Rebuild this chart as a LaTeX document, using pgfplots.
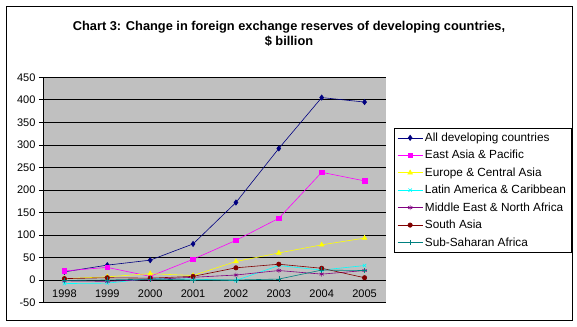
\documentclass[border=0pt]{standalone}
\usepackage{pgfplots}
\pgfplotsset{compat=1.18}
\usepackage{fontspec}
\setmainfont{Liberation Sans}
\usetikzlibrary{plotmarks}
\definecolor{cAll}{HTML}{000080}
\definecolor{cEA}{HTML}{FF00FF}
\definecolor{cEU}{HTML}{FFFF00}
\definecolor{cLA}{HTML}{00FFFF}
\definecolor{cME}{HTML}{800080}
\definecolor{cSA}{HTML}{800000}
\definecolor{cSS}{HTML}{008080}
\definecolor{plotgray}{HTML}{C0C0C0}
\begin{document}
\begin{tikzpicture}
\begin{axis}[
  scale only axis,
  width=343pt, height=225.2pt,
  xmin=-0.5, xmax=7.5,
  ymin=-50, ymax=450,
  ytick={-50,0,...,450},
  xtick={0,...,7},
  xticklabels={1998,1999,2000,2001,2002,2003,2004,2005},
  minor xtick={-0.5,0.5,...,7.5},
  axis x line*=middle,
  axis y line*=left,
  axis line style={black, line width=0.7pt, -},
  x tick style={draw=none},
  minor x tick style={black, line width=0.7pt},
  y tick style={black, line width=0.7pt},
  tick align=outside,
  major tick length=4pt,
  minor tick length=4pt,
  ymajorgrids,
  grid style={black, line width=0.7pt},
  axis background/.style={fill=plotgray},
  tick label style={font=\fontsize{11}{13}\selectfont},
  xticklabel style={yshift=-2.5pt},
  /pgf/number format/assume math mode=true,
  every axis plot/.append style={line width=0.6pt},
  legend image code/.code={\draw[mark repeat=2,mark phase=2,#1] plot coordinates {(0pt,0pt) (12.5pt,0pt) (25pt,0pt)};},
  legend style={at={(rel axis cs:1.0233,0.775)}, anchor=north west, draw=black, line width=0.7pt, fill=white,
    font=\fontsize{11.8}{13}\selectfont, row sep=3.4pt, inner xsep=3pt, inner ysep=2.5pt},
  legend cell align=left,
  clip=false,
]
\addplot[color=cAll, mark=diamond*, mark size=2.6pt] coordinates {(0,18) (1,33) (2,44) (3,80) (4,172) (5,292) (6,405) (7,395)};
\addlegendentry{All developing countries}
\addplot[color=cEA, mark=square*, mark size=2.3pt] coordinates {(0,20) (1,28) (2,8) (3,46) (4,88) (5,137) (6,239) (7,220)};
\addlegendentry{East Asia \& Pacific}
\addplot[color=cEU, mark=triangle*, mark size=2.7pt] coordinates {(0,3) (1,7) (2,14) (3,10) (4,41) (5,60) (6,78) (7,93)};
\addlegendentry{Europe \& Central Asia}
\addplot[color=cLA, mark=x, mark size=2.4pt] coordinates {(0,-8) (1,-7) (2,3) (3,2) (4,-1) (5,32) (6,22) (7,32)};
\addlegendentry{Latin America \& Caribbean}
\addplot[color=cME, mark=asterisk, mark size=2.4pt] coordinates {(0,-2) (1,-3) (2,1) (3,6) (4,11) (5,21) (6,13) (7,21)};
\addlegendentry{Middle East \& North Africa}
\addplot[color=cSA, mark=*, mark size=2.2pt] coordinates {(0,3) (1,5) (2,4) (3,8) (4,27) (5,35) (6,26) (7,5)};
\addlegendentry{South Asia}
\addplot[color=cSS, mark=+, mark size=2.6pt] coordinates {(0,-1) (1,0) (2,2) (3,0) (4,0) (5,2) (6,22) (7,21)};
\addlegendentry{Sub-Saharan Africa}
\end{axis}
\draw[black, line width=0.8pt] (-37pt,-17.5pt) rectangle (529pt,296.5pt);
\node[font=\bfseries\fontsize{12.8}{14}\selectfont, anchor=base] at (246pt,272pt) {Chart 3: Change in foreign exchange reserves of developing countries,};
\node[font=\bfseries\fontsize{12.8}{14}\selectfont, anchor=base] at (246pt,257pt) {\$ billion};
\pgfresetboundingbox
\path (-43pt,-23.5pt) rectangle (534pt,302.5pt);
\end{tikzpicture}
\end{document}
